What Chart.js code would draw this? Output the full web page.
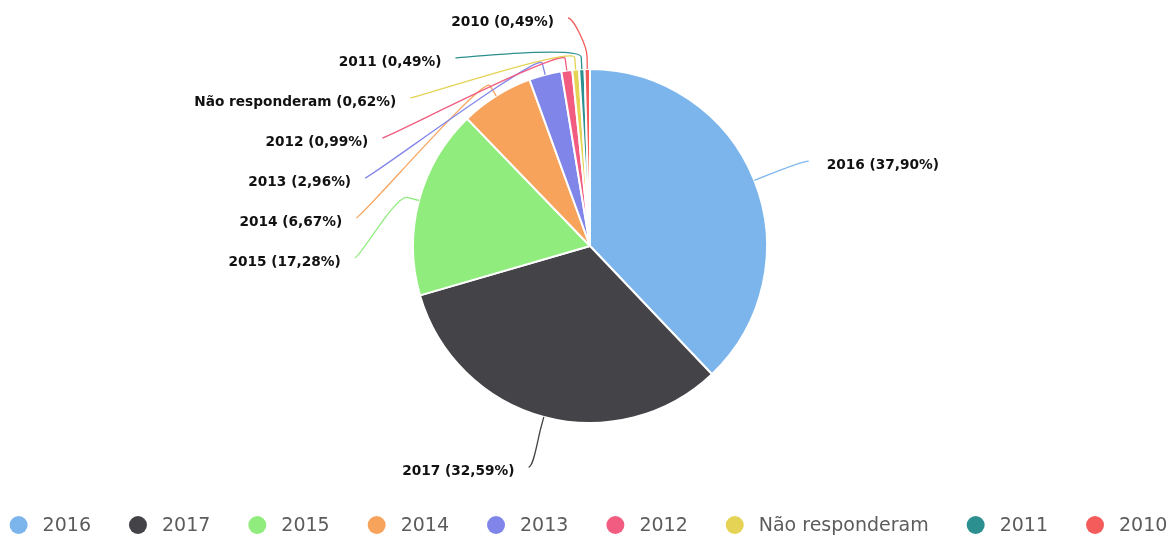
<!DOCTYPE html>
<html>
<head>
<meta charset="utf-8">
<script src="https://cdn.jsdelivr.net/npm/chart.js@4.4.1/dist/chart.umd.min.js"></script>
<style>
  html, body { margin: 0; padding: 0; background: #fff; }
</style>
</head>
<body>
<canvas id="anoChart" width="1173" height="538"></canvas>
<script>
// ano de ingresso dos respondentes (%)
const categorias = ['2016', '2017', '2015', '2014', '2013', '2012', 'Não responderam', '2011', '2010'];
const percentuais = [37.90, 32.59, 17.28, 6.67, 2.96, 0.99, 0.62, 0.49, 0.49];
const cores = ['#7cb5ec', '#434348', '#90ed7d', '#f7a35c', '#8085e9', '#f15c80', '#e4d354', '#2b908f', '#f45b5b'];

const formataPct = (v) => v.toFixed(2).replace('.', ',') + '%';

// rótulos fora da pizza com linha de ligação (estilo "fixedOffset")
const rotulosPizza = {
    id: 'rotulosPizza',
    afterDatasetsDraw: function(chart){
        const ctx = chart.ctx;
        const arcs = chart.getDatasetMeta(0).data;
        const centro = arcs[0].getProps(['x', 'y', 'outerRadius'], true);
        const cx = centro.x, cy = centro.y, r = centro.outerRadius;
        const rx = r + 58.5, ry = r + 52;
        const espaco = 40, topo = 18;

        var itens = arcs.map(function(arc, i){
            const p = arc.getProps(['startAngle', 'endAngle'], true);
            const meio = (p.startAngle + p.endAngle) / 2;
            const c = Math.cos(meio), s = Math.sin(meio);
            return {
                i: i,
                esquerda: c < 0,
                toque: {x: cx + r * c, y: cy + r * s},
                quebra: {x: cx + (r + 12) * c, y: cy + (r + 12) * s},
                y: cy + ry * s
            };
        });

        [true, false].forEach(function(lado){
            var grupo = itens.filter(it => it.esquerda === lado).sort((a, b) => a.y - b.y);
            var anterior = -Infinity;
            for(var it of grupo){
                it.y = Math.max(it.y, anterior + espaco, topo);
                anterior = it.y;
                const k = Math.max(0, 1 - Math.pow((it.y - cy) / ry, 2));
                it.x = cx + (lado ? -1 : 1) * rx * Math.sqrt(k);
            }
        });

        ctx.save();
        ctx.lineWidth = 1.3;
        for(var it of itens){
            ctx.strokeStyle = cores[it.i];
            ctx.beginPath();
            ctx.moveTo(it.x, it.y);
            ctx.bezierCurveTo(
                it.x + (it.esquerda ? 5 : -5), it.y,
                2 * it.quebra.x - it.toque.x, 2 * it.quebra.y - it.toque.y,
                it.quebra.x, it.quebra.y
            );
            ctx.lineTo(it.toque.x, it.toque.y);
            ctx.stroke();
        }
        ctx.font = 'bold 13.7px "DejaVu Sans"';
        ctx.fillStyle = '#111';
        ctx.textBaseline = 'middle';
        for(var it of itens){
            const texto = categorias[it.i] + ' (' + formataPct(percentuais[it.i]) + ')';
            ctx.textAlign = it.esquerda ? 'right' : 'left';
            ctx.fillText(texto, it.esquerda ? it.x - 14 : it.x + 18, it.y + 4);
        }
        ctx.restore();
    }
};

// legenda numa linha só, centrada embaixo
const legendaLinha = {
    id: 'legendaLinha',
    afterDraw: function(chart){
        const ctx = chart.ctx;
        const raio = 9, recuo = 24, distancia = 47, yLinha = 525;
        ctx.save();
        ctx.font = '19px "DejaVu Sans"';
        const larguras = categorias.map(c => ctx.measureText(c).width);
        var total = raio;
        larguras.forEach((w, i) => { total += recuo + w + (i < larguras.length - 1 ? distancia : 0); });
        var x = (chart.width - total) / 2 + raio + 2;
        ctx.textBaseline = 'middle';
        ctx.textAlign = 'left';
        categorias.forEach(function(cat, i){
            ctx.fillStyle = cores[i];
            ctx.beginPath();
            ctx.arc(x, yLinha, raio, 0, Math.PI * 2);
            ctx.fill();
            ctx.fillStyle = '#5c5c5c';
            ctx.fillText(cat, x + recuo, yLinha + 1);
            x += recuo + larguras[i] + distancia;
        });
        ctx.restore();
    }
};

new Chart(document.getElementById('anoChart'), {
    type: 'pie',
    data: {
        labels: categorias,
        datasets: [{
            data: percentuais,
            backgroundColor: cores,
            borderColor: '#ffffff',
            borderWidth: 2
        }]
    },
    options: {
        responsive: false,
        animation: false,
        layout: { padding: { left: 7, right: 0, top: 68, bottom: 114 } },
        plugins: {
            legend: { display: false },
            tooltip: { enabled: false }
        }
    },
    plugins: [rotulosPizza, legendaLinha]
});
</script>
</body>
</html>
